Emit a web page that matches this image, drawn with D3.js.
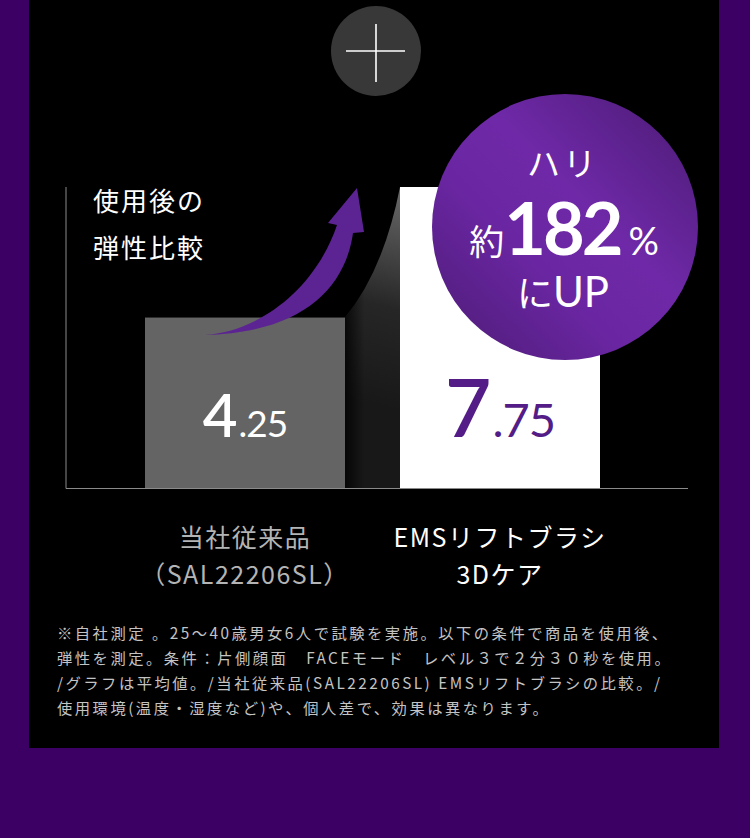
<!DOCTYPE html>
<html>
<head>
<meta charset="utf-8">
<script src="https://cdn.jsdelivr.net/npm/d3@7"></script>
<style>
  html, body { margin: 0; padding: 0; background: #3c0064; }
  svg { display: block; }
</style>
</head>
<body>
<svg id="chart" width="750" height="838"></svg>
<script>
// chart data
const categories = ['current', 'ems'];
const categoryLabels = [['当社従来品', '（SAL22206SL）'], ['EMSリフトブラシ', '3Dケア']];
const values = [4.25, 7.75];
const titleLines = ['使用後の', '弾性比較'];
const badgeTop = 'ハリ';
const badgePrefix = '約';
const badgeSuffix = 'にUP';
const noteLines = [
  '※自社測定 。25～40歳男女6人で試験を実施。以下の条件で商品を使用後、',
  '弾性を測定。条件：片側顔面　FACEモード　レベル３で２分３０秒を使用。',
  '/グラフは平均値。/当社従来品(SAL22206SL) EMSリフトブラシの比較。/',
  '使用環境(温度・湿度など)や、個人差で、効果は異なります。',
];

const JP = "'Noto Sans CJK JP', 'Noto Sans', sans-serif";
const NUM = "Lato, 'Noto Sans CJK JP', sans-serif";

const svg = d3.select('#chart');
const defs = svg.append('defs');

// black panel
svg.append('rect')
  .attr('x', 29).attr('y', 0)
  .attr('width', 690).attr('height', 748)
  .attr('fill', '#000');

// plus badge on top
const plus = svg.append('g').attr('transform', 'translate(376,51)');
plus.append('circle').attr('r', 45).attr('fill', '#383838');
plus.append('line').attr('x1', -30).attr('x2', 29).attr('y1', 0).attr('y2', 0)
  .attr('stroke', '#fff').attr('stroke-width', 1.6);
plus.append('line').attr('x1', 0).attr('x2', 0).attr('y1', -27).attr('y2', 31)
  .attr('stroke', '#fff').attr('stroke-width', 1.6);

// scales (the picture's baseline sits a little under zero)
const x = d3.scaleBand()
  .domain(categories)
  .range([145, 600])
  .paddingInner(0.2157)
  .paddingOuter(0);
const y = d3.scaleLinear()
  .domain([-0.32, d3.max(values)])
  .range([488, 187]);
const base = y.range()[0];

// axes lines
svg.append('line')
  .attr('x1', 66).attr('x2', 66)
  .attr('y1', y.range()[1]).attr('y2', base + 0.5)
  .attr('stroke', '#8a8a8a').attr('stroke-width', 1);
svg.append('line')
  .attr('x1', 66).attr('x2', 688)
  .attr('y1', base + 0.5).attr('y2', base + 0.5)
  .attr('stroke', '#8a8a8a').attr('stroke-width', 1);

// gradient connector between the two bars
const x0 = x(categories[0]) + x.bandwidth();
const x1 = x(categories[1]);
const y0 = y(values[0]);
const y1 = y(values[1]);

const gShade = defs.append('linearGradient')
  .attr('id', 'shade').attr('gradientUnits', 'userSpaceOnUse')
  .attr('x1', x1).attr('y1', y1).attr('x2', x0).attr('y2', y0 + 80);
gShade.append('stop').attr('offset', 0).attr('stop-color', '#6a6a6a');
gShade.append('stop').attr('offset', 0.55).attr('stop-color', '#262626');
gShade.append('stop').attr('offset', 1).attr('stop-color', '#181818');

const gEdge = defs.append('linearGradient')
  .attr('id', 'edge').attr('gradientUnits', 'userSpaceOnUse')
  .attr('x1', x0).attr('y1', 0).attr('x2', x1).attr('y2', 0);
gEdge.append('stop').attr('offset', 0).attr('stop-color', '#000').attr('stop-opacity', 0.75);
gEdge.append('stop').attr('offset', 0.35).attr('stop-color', '#000').attr('stop-opacity', 0);

const conn = d3.path();
conn.moveTo(x0, y0);
conn.quadraticCurveTo(x0 + (x1 - x0) * 0.7, y0 + (y1 - y0) * 0.36, x1, y1);
conn.lineTo(x1, base);
conn.lineTo(x0, base);
conn.closePath();
svg.append('path').attr('d', conn.toString()).attr('fill', 'url(#shade)');
svg.append('path').attr('d', conn.toString()).attr('fill', 'url(#edge)');

// bars
svg.selectAll('.bar')
  .data(values)
  .enter().append('rect')
  .attr('class', 'bar')
  .attr('x', (d, i) => x(categories[i]))
  .attr('y', d => y(d))
  .attr('width', x.bandwidth())
  .attr('height', d => base - y(d))
  .attr('fill', (d, i) => (i === 0 ? '#646464' : '#ffffff'));

// value labels, big integer part + small decimals
const valueColors = ['#ffffff', '#531c86'];
const intSizes = [60, 80];
const decSizes = [37, 47];
values.forEach((v, i) => {
  const parts = d3.format('.2f')(v).split('.');
  const t = svg.append('text')
    .attr('x', x(categories[i]) + x.bandwidth() / 2)
    .attr('y', 437)
    .attr('text-anchor', 'middle')
    .attr('fill', valueColors[i])
    .attr('font-family', NUM);
  t.append('tspan').attr('font-size', intSizes[i]).attr('font-weight', 600).text(parts[0]);
  t.append('tspan').attr('font-size', decSizes[i]).attr('dx', 1)
    .attr('letter-spacing', -1).text(`.${parts[1]}`);
});

// curved arrow over the first bar
svg.append('path')
  .attr('d', 'M204,335 C258,332 315,290 337,225 L328,223 L357,188 L364,232 L353,233 C345,290 300,333 204,335 Z')
  .attr('fill', '#5c2393');

// title
svg.append('g')
  .selectAll('text')
  .data(titleLines)
  .enter().append('text')
  .attr('x', 93)
  .attr('y', (d, i) => 211 + i * 47)
  .attr('fill', '#fff')
  .attr('font-family', JP)
  .attr('font-size', 26)
  .attr('letter-spacing', 2)
  .text(d => d);

// purple badge with increase ratio
const ratio = Math.round((values[1] / values[0]) * 100);
const gBadge = defs.append('linearGradient')
  .attr('id', 'badge').attr('x1', 1).attr('y1', 0).attr('x2', 0).attr('y2', 1);
gBadge.append('stop').attr('offset', 0).attr('stop-color', '#4a1a72');
gBadge.append('stop').attr('offset', 0.42).attr('stop-color', '#6f29a8');
gBadge.append('stop').attr('offset', 0.62).attr('stop-color', '#6a26a2');
gBadge.append('stop').attr('offset', 1).attr('stop-color', '#4c1b74');

const badge = svg.append('g').attr('transform', 'translate(565,227)');
badge.append('circle').attr('r', 133).attr('fill', 'url(#badge)');
badge.append('text')
  .attr('y', -51)
  .attr('x', -2)
  .attr('text-anchor', 'middle')
  .attr('fill', '#fff')
  .attr('font-family', JP)
  .attr('font-size', 33)
  .attr('letter-spacing', 3)
  .text(badgeTop);
const mid = badge.append('text')
  .attr('y', 28)
  .attr('x', -1)
  .attr('text-anchor', 'middle')
  .attr('fill', '#fff');
mid.append('tspan').attr('font-family', JP).attr('font-size', 35).text(badgePrefix);
mid.append('tspan').attr('font-family', NUM).attr('font-size', 72).attr('font-weight', 700)
  .attr('letter-spacing', -3).text(ratio);
mid.append('tspan').attr('font-family', NUM).attr('font-size', 38).attr('dx', 8).text('%');
const low = badge.append('text')
  .attr('y', 80)
  .attr('x', -2)
  .attr('text-anchor', 'middle')
  .attr('fill', '#fff');
low.append('tspan').attr('font-family', JP).attr('font-size', 36).text(badgeSuffix.slice(0, 1));
low.append('tspan').attr('font-family', NUM).attr('font-size', 42).text(badgeSuffix.slice(1));

// category labels
const labelColors = ['#b4b4b4', '#ffffff'];
categoryLabels.forEach((lines, i) => {
  svg.append('g')
    .selectAll('text')
    .data(lines)
    .enter().append('text')
    .attr('x', x(categories[i]) + x.bandwidth() / 2)
    .attr('y', (d, j) => 547 + j * 37)
    .attr('text-anchor', 'middle')
    .attr('fill', labelColors[i])
    .attr('font-family', JP)
    .attr('font-size', 25)
    .attr('letter-spacing', 1.5)
    .text(d => d);
});

// footnote
svg.append('g')
  .selectAll('text')
  .data(noteLines)
  .enter().append('text')
  .attr('x', 57)
  .attr('y', (d, i) => 639 + i * 25)
  .attr('fill', '#c4c4c4')
  .attr('font-family', JP)
  .attr('font-size', 15.3)
  .attr('letter-spacing', 2.5)
  .text(d => d);
</script>
</body>
</html>
